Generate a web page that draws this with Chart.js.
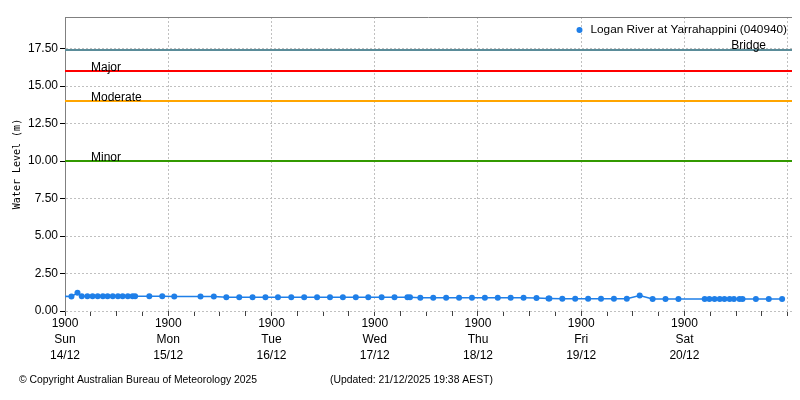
<!DOCTYPE html>
<html>
<head>
<meta charset="utf-8">
<script src="https://cdn.jsdelivr.net/npm/chart.js@4.4.0/dist/chart.umd.min.js"></script>
<style>
  body { margin: 0; background: #fff; }
  canvas { display: block; }
</style>
</head>
<body>
<canvas id="chart" width="800" height="400"></canvas>
<script>
// hours after Sun 14/12 19:00
const hours = [-1.5, 1.5, 2.9, 3.9, 5.2, 6.4, 7.6, 8.8, 9.9, 11.1, 12.3, 13.4, 14.6, 15.7, 16.3,
  19.6, 22.6, 25.4, 31.5, 34.6,
  37.5, 40.5, 43.6, 46.6, 49.5, 52.6, 55.6, 58.6, 61.6, 64.6, 67.6, 70.5, 73.6, 76.6,
  79.6, 80.2,
  82.6, 85.6, 88.6, 91.6, 94.6, 97.6, 100.6, 103.6, 106.6, 109.6,
  112.4, 112.6,
  115.6, 118.6, 121.6, 124.6, 127.6, 130.6,
  133.6,
  136.6, 139.6, 142.6,
  148.7, 149.8, 151.0, 152.2, 153.3, 154.5, 155.5, 156.8, 157.5,
  160.6, 163.6, 166.7];
const levels = [0.99, 0.96, 1.21, 0.99, 0.99, 0.99, 0.99, 0.99, 0.99, 0.99, 0.99, 0.99, 0.99, 0.99, 0.99,
  0.98, 0.98, 0.97, 0.97, 0.96,
  0.92, 0.92, 0.92, 0.92, 0.92, 0.92, 0.92, 0.92, 0.92, 0.92, 0.92, 0.92, 0.92, 0.92,
  0.91, 0.91,
  0.88, 0.88, 0.88, 0.88, 0.88, 0.88, 0.88, 0.88, 0.88, 0.87,
  0.84, 0.84,
  0.81, 0.81, 0.81, 0.81, 0.81, 0.81,
  1.03,
  0.80, 0.80, 0.80,
  0.80, 0.80, 0.80, 0.80, 0.80, 0.80, 0.80, 0.80, 0.80,
  0.80, 0.80, 0.80];

const seriesName = 'Logan River at Yarrahappini (040940)';
const thresholdNames = ['Minor', 'Moderate', 'Major', 'Bridge'];
const thresholdLevels = [10, 14, 16, 17.4];
const thresholdColors = ['#339900', '#ffa500', '#ff0000', '#5a8c99'];

const dayNames = ['Sun', 'Mon', 'Tue', 'Wed', 'Thu', 'Fri', 'Sat'];
const dayDates = ['14/12', '15/12', '16/12', '17/12', '18/12', '19/12', '20/12'];
const xMin = 0, xMax = 169;
const yTicks = [0, 2.5, 5, 7.5, 10, 12.5, 15, 17.5];

const FONT = '"Liberation Sans", Arial, sans-serif';

const datasets = [{
  label: seriesName,
  data: hours.map((h, i) => ({ x: h, y: levels[i] })),
  borderColor: '#1f7fe8',
  backgroundColor: '#1f7fe8',
  borderWidth: 1.5,
  pointRadius: 3,
  pointBorderWidth: 0,
  tension: 0
}];
thresholdNames.forEach((name, i) => {
  datasets.push({
    label: name,
    data: [{ x: xMin, y: thresholdLevels[i] }, { x: xMax, y: thresholdLevels[i] }],
    borderColor: thresholdColors[i],
    borderWidth: 2,
    pointRadius: 0
  });
});

const decor = {
  id: 'decor',
  afterDatasetsDraw(chart) {
    const { ctx, chartArea, scales } = chart;
    ctx.save();
    // top frame line
    ctx.strokeStyle = '#808080';
    ctx.lineWidth = 1;
    ctx.beginPath();
    ctx.moveTo(chartArea.left, chartArea.top + 0.5);
    ctx.lineTo(chartArea.right, chartArea.top + 0.5);
    ctx.stroke();

    // threshold labels
    ctx.font = '12px ' + FONT;
    ctx.fillStyle = '#000';
    ctx.textBaseline = 'alphabetic';
    thresholdNames.forEach((name, i) => {
      const y = scales.y.getPixelForValue(thresholdLevels[i]);
      if (name === 'Bridge') {
        ctx.textAlign = 'right';
        ctx.fillText(name, chartArea.right - 26, y - 1);
      } else {
        ctx.textAlign = 'left';
        ctx.fillText(name, chartArea.left + 26, y);
      }
    });

    // legend
    ctx.font = '11.8px ' + FONT;
    ctx.textAlign = 'right';
    ctx.textBaseline = 'middle';
    const lx = chartArea.right - 5;
    ctx.fillText(seriesName, lx, 30);
    const w = ctx.measureText(seriesName).width;
    ctx.fillStyle = '#1f7fe8';
    ctx.beginPath();
    ctx.arc(lx - w - 11, 30, 3, 0, Math.PI * 2);
    ctx.fill();

    // footer
    ctx.fillStyle = '#000';
    ctx.font = '10.4px ' + FONT;
    ctx.textAlign = 'left';
    ctx.fillText('\u00a9 Copyright Australian Bureau of Meteorology 2025', 19, 380);
    ctx.fillText('(Updated: 21/12/2025 19:38 AEST)', 330, 380);
    ctx.restore();
  }
};

new Chart(document.getElementById('chart'), {
  type: 'line',
  data: { datasets },
  plugins: [decor],
  options: {
    responsive: false,
    animation: false,
    layout: { padding: { top: 17, right: 8, left: 0, bottom: 0 } },
    plugins: { legend: { display: false }, tooltip: { enabled: false } },
    scales: {
      x: {
        type: 'linear',
        min: xMin,
        max: xMax,
        afterFit: s => { s.height = 89; },
        afterBuildTicks: s => {
          const t = [];
          for (let v = 0; v <= 168; v += 6) t.push({ value: v });
          s.ticks = t;
        },
        ticks: {
          autoSkip: false,
          maxRotation: 0,
          padding: 0,
          color: '#000',
          font: { family: FONT, size: 12, lineHeight: 1.33 },
          callback: v => {
            const d = v / 24;
            if (v % 24 === 0 && d < dayNames.length) return ['1900', dayNames[d], dayDates[d]];
            return '';
          }
        },
        grid: {
          color: c => (c.tick && c.tick.value % 24 === 0 && c.tick.value > 0) ? '#c0c0c0' : 'transparent',
          tickColor: '#404040',
          tickLength: 5
        },
        border: { display: false, dash: [2, 2] }
      },
      y: {
        min: 0,
        max: 19.6,
        afterFit: s => { s.width = 65; },
        afterBuildTicks: s => { s.ticks = yTicks.map(v => ({ value: v })); },
        ticks: {
          padding: 2,
          color: '#000',
          font: { family: FONT, size: 12 },
          callback: v => v.toFixed(2)
        },
        grid: { color: '#c0c0c0', tickColor: '#000', tickLength: 5 },
        border: { display: true, color: '#808080', width: 1, dash: [2, 2] },
        title: {
          display: true,
          text: 'Water Level (m)',
          color: '#000',
          font: { family: '"DejaVu Sans Mono", monospace', size: 10, lineHeight: 1.2 },
          padding: { top: 11, bottom: 0 }
        }
      }
    }
  }
});
</script>
</body>
</html>
